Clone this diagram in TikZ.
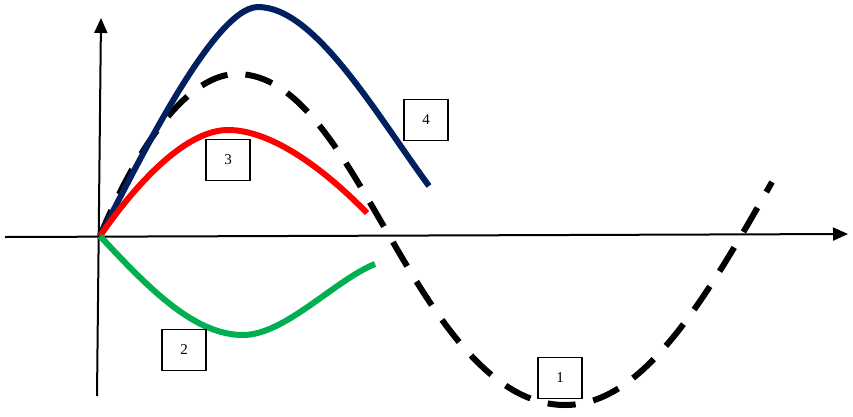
\documentclass[tikz,border=0pt]{standalone}
\usepackage{fontspec}
\setmainfont{Liberation Serif}
\usetikzlibrary{arrows.meta}
\definecolor{navy}{HTML}{002060}
\definecolor{grn}{HTML}{00B050}
\begin{document}
\begin{tikzpicture}[x=1pt,y=-1pt,
    axis/.style={line width=2pt,-{Triangle[length=15pt,width=13pt]}},
    curve/.style={line width=6pt},
    tag/.style={rectangle,draw,line width=1.3pt,fill=white,minimum width=44pt,minimum height=41pt,font=\fontsize{15}{17}\selectfont}]
            \useasboundingbox (0,0) rectangle (853,416);
            \coordinate(o)at(100,236);\coordinate(xl)at(5,237);\coordinate(xr)at(848,234);
            \coordinate(yb)at(97,396);\coordinate(yt)at(101,18);
            \draw [axis] (xl)--(xr);
            \draw [axis] (yb)--(yt);
            \draw [curve,dash pattern=on 28pt off 18pt] (o) .. controls (140,140) and (190,74) .. (237,74) .. controls (300,74) and (345,160) .. (390,237) .. controls (435,315) and (490,405) .. (565,405) .. controls (640,405) and (700,310) .. (772,182);
            \draw [curve,navy] (o) .. controls (130,180) and (212,7) .. (258,7) .. controls (315,7) and (376,114) .. (429,186);
            \draw [curve,red] (o) .. controls (135,185) and (185,130) .. (228,130) .. controls (275,130) and (330,175) .. (367,213);
            \draw [curve,grn] (o) .. controls (150,290) and (195,335) .. (243,335) .. controls (285,335) and (335,280) .. (375,264);
            \node[tag] (b1) at (560,378) {1};
            \node[tag] (b2) at (184,350) {2};
            \node[tag] (b3) at (228,160) {3};
            \node[tag] (b4) at (426,120) {4};
            \end{tikzpicture}
\end{document}
